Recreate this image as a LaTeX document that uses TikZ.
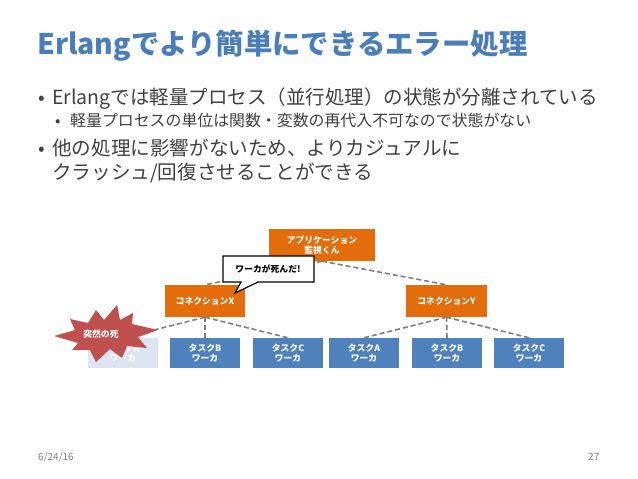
\documentclass[tikz,border=0pt]{standalone}
\usepackage{fontspec}
\setmainfont{Noto Sans CJK JP}
\definecolor{titleblue}{HTML}{4A7EBB}
\definecolor{textgray}{HTML}{404040}
\definecolor{orangec}{HTML}{E46C0A}
\definecolor{bluec}{HTML}{4F81BD}
\definecolor{fadedblue}{HTML}{DCE6F2}
\definecolor{burstred}{HTML}{C0504D}
\definecolor{dashgray}{HTML}{808080}
\definecolor{footgray}{HTML}{7F7F7F}
\begin{document}
\begin{tikzpicture}[x=1pt,y=-1pt,
  boxtext/.style={text=white,font=\bfseries\fontsize{8.8}{10.5}\selectfont,align=center,inner sep=0pt},
  orangebox/.style={boxtext,fill=orangec,minimum height=32pt},
  bluebox/.style={boxtext,fill=bluec,minimum width=70pt,minimum height=30pt},
  fadedbox/.style={boxtext,fill=fadedblue,minimum width=70pt,minimum height=30pt},
  link/.style={draw=dashgray,line width=1.6pt,dash pattern=on 5pt off 3pt},
  bul/.style={anchor=base west,inner sep=0pt,text=textgray},
  foot/.style={anchor=base west,inner sep=0pt,text=footgray,font=\fontsize{10}{12}\selectfont}
]
\useasboundingbox (0,0) rectangle (638,479);
% title
\node[anchor=base west,inner sep=0pt,text=titleblue,font=\bfseries\fontsize{28.4}{32}\selectfont] (title) at (37,54.5) {Erlangでより簡単にできるエラー処理};
% bullets
\node[bul,font=\fontsize{19.5}{22}\selectfont] (b1m) at (38,104) {•};
\node[bul,font=\fontsize{19.5}{22}\selectfont] (b1) at (52,104) {Erlangでは軽量プロセス（並行処理）の状態が分離されている};
\node[bul,font=\fontsize{15.9}{18}\selectfont] (b2m) at (55,126.5) {•};
\node[bul,font=\fontsize{15.9}{18}\selectfont] (b2) at (70,126.5) {軽量プロセスの単位は関数・変数の再代入不可なので状態がない};
\node[bul,font=\fontsize{19.6}{22}\selectfont] (b3m) at (38,155) {•};
\node[bul,font=\fontsize{19.6}{22}\selectfont] (b3) at (52,155) {他の処理に影響がないため、よりカジュアルに};
\node[bul,font=\fontsize{19.6}{22}\selectfont] (b4) at (52,179) {クラッシュ/回復させることができる};
% diagram nodes
\node[orangebox,minimum width=106pt] (app) at (322,245) {アプリケーション\\監視くん};
\node[orangebox,minimum width=80pt] (cx) at (205,301) {コネクションX};
\node[orangebox,minimum width=81pt] (cy) at (446.5,301) {コネクションY};
\node[fadedbox] (xa) at (123,353) {タスクA\\ワーカ};
\node[bluebox] (xb) at (205,353) {タスクB\\ワーカ};
\node[bluebox] (xc) at (288,353) {タスクC\\ワーカ};
\node[bluebox] (ya) at (364,353) {タスクA\\ワーカ};
\node[bluebox] (yb) at (447,353) {タスクB\\ワーカ};
\node[bluebox] (yc) at (529,353) {タスクC\\ワーカ};
% links
\draw[link] (app.south) -- (cx.north);
\draw[link] (app.south) -- (cy.north);
\foreach \t in {xa,xb,xc} \draw[link] (cx.south) -- (\t.north);
\foreach \t in {ya,yb,yc} \draw[link] (cy.south) -- (\t.north);
% speech bubble
\draw[black,line width=1.2pt,fill=white,line join=miter]
  (223,256) -- (314,256) -- (314,282) -- (258,282) -- (235,293) -- (241,282) -- (223,282) -- cycle;
\node[inner sep=0pt,font=\bfseries\fontsize{8.8}{10}\selectfont] (bubble) at (268,269) {ワーカが死んだ!};
% burst
\fill[burstred]
  (117,305) -- (120,320) -- (133,313) -- (132,324) -- (158,330) -- (138,337) -- (147,348)
  -- (127,346) -- (122,358) -- (110,349) -- (96,362) -- (90,350) -- (72,350) -- (78,343)
  -- (54,336) -- (75,330) -- (70,319) -- (88,323) -- (96,310) -- (104,320) -- cycle;
\node[inner sep=0pt,text=white,font=\bfseries\fontsize{8.8}{10}\selectfont] (burst) at (101,334) {突然の死};
% footer
\node[foot] (date) at (38,460) {6/24/16};
\node[foot] (page) at (588,460) {27};
\end{tikzpicture}
\end{document}
